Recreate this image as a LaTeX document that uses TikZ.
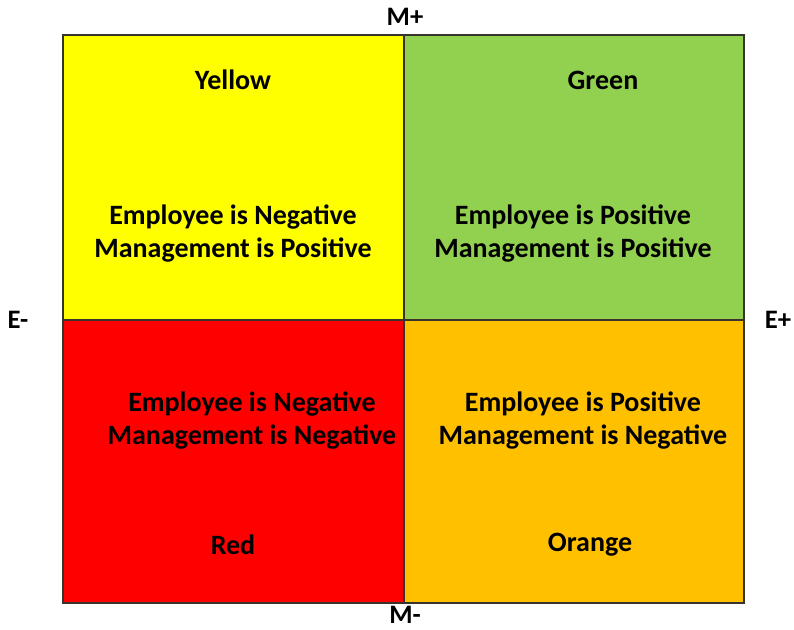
\documentclass[tikz,border=0pt]{standalone}
\usepackage{fontspec}
\setmainfont{Carlito}
\usetikzlibrary{positioning}
\definecolor{qyellow}{HTML}{FFFF00}
\definecolor{qgreen}{HTML}{92D050}
\definecolor{qred}{HTML}{FF0000}
\definecolor{qorange}{HTML}{FFC000}
\tikzset{
	grid line/.style={draw=black!80!olive,line width=0.8pt},
	title/.style={font=\fontsize{21}{24.75}\selectfont\bfseries},
	body/.style={font=\fontsize{21}{24.75}\selectfont\bfseries,align=center},
	axis/.style={font=\fontsize{20}{24}\selectfont\bfseries,inner sep=0pt}
}
\begin{document}
\begin{tikzpicture}[x=0.75pt,y=-0.75pt]
	\useasboundingbox (0,0) rectangle (794,630);
	\fill[qyellow] (63,35) rectangle (404,320);
	\fill[qgreen] (404,35) rectangle (744,320);
	\fill[qred] (63,320) rectangle (404,603);
	\fill[qorange] (404,320) rectangle (744,603);
	\draw[grid line] (63,35) rectangle (744,603);
	\draw[grid line] (404,35) -- (404,603);
	\draw[grid line] (63,320) -- (744,320);
	\node[title] (yellow) at (233,80) {Yellow};
	\node[title] (green) at (603,80) {Green};
	\node[title] (red) at (233,545) {Red};
	\node[title] (orange) at (590,545) {Orange};
	\node[body] (yellowtext) at (233,234) {Employee is Negative\\Management is Positive};
	\node[body] (greentext) at (573,234) {Employee is Positive\\Management is Positive};
	\node[body] (redtext) at (252,421) {Employee is Negative\\Management is Negative};
	\node[body] (orangetext) at (583,421) {Employee is Positive\\Management is Negative};
	\node[axis] (mplus) at (405,17) {M+};
	\node[axis] (mminus) at (405,615) {M-};
	\node[axis] (eminus) at (18,320) {E-};
	\node[axis] (eplus) at (778,320) {E+};
\end{tikzpicture}
\end{document}
